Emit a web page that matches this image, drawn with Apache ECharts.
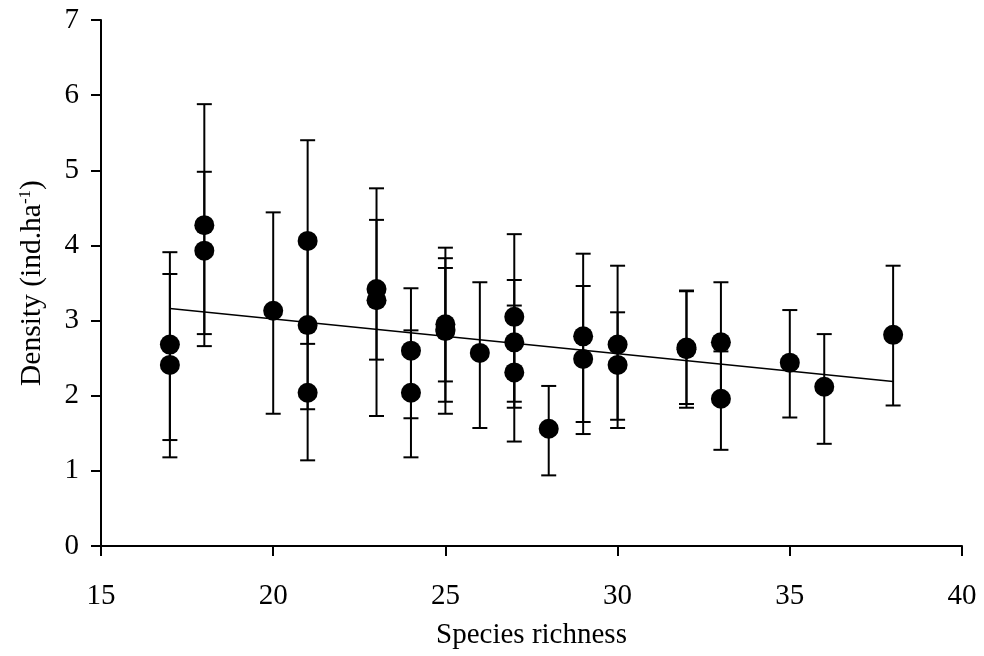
<!DOCTYPE html>
<html>
<head>
<meta charset="utf-8">
<script src="https://cdn.jsdelivr.net/npm/echarts@6/dist/echarts.min.js"></script>
<style>html,body{margin:0;padding:0;background:#fff}#c{width:984px;height:656px}</style>
</head>
<body>
<div id="c"></div>
<script>
var richness = [17,17,18,18,20,21,21,21,23,23,24,24,25,25,25,26,27,27,27,28,29,29,30,30,32,32,33,33,35,36,38];
var density  = [2.68,2.41,4.27,3.93,3.13,4.06,2.94,2.04,3.42,3.27,2.60,2.04,2.95,2.88,2.86,2.57,3.05,2.71,2.31,1.56,2.79,2.49,2.68,2.41,2.64,2.62,2.71,1.96,2.44,2.12,2.81];
var lower    = [1.41,1.18,2.66,2.82,1.76,2.69,1.82,1.14,2.48,1.73,1.70,1.18,2.19,1.92,1.76,1.57,1.92,1.84,1.39,0.94,1.65,1.49,1.57,1.68,1.84,1.89,1.91,1.28,1.71,1.36,1.87];
var upper    = [3.91,3.62,5.88,4.98,4.44,5.40,4.06,2.94,4.34,4.76,3.43,2.87,3.70,3.83,3.97,3.51,4.15,3.54,3.20,2.13,3.89,3.46,3.73,3.11,3.40,3.39,3.51,2.59,3.14,2.82,3.73];
var trendX = [17, 38];
var trendY = [3.16, 2.19];
var xTicks = [15,20,25,30,35,40];
var yTicks = [0,1,2,3,4,5,6,7];

var FONT = 'Liberation Serif';
var chart = echarts.init(document.getElementById('c'));
var errData = richness.map(function(x,i){ return [x, lower[i], upper[i]]; });
var ptData = richness.map(function(x,i){ return [x, density[i]]; });
var lineData = trendX.map(function(x,i){ return [x, trendY[i]]; });

chart.setOption({
  animation: false,
  backgroundColor: '#fff',
  grid: {left: 101, right: 22, top: 20, bottom: 110},
  xAxis: {
    type: 'value', min: xTicks[0], max: xTicks[xTicks.length-1], interval: 5,
    name: 'Species richness', nameLocation: 'middle', nameGap: 75,
    nameTextStyle: {fontFamily: FONT, fontSize: 29, color: '#000'},
    axisLine: {lineStyle: {color: '#000', width: 2}},
    axisTick: {show: true, inside: false, length: 10, lineStyle: {color: '#000', width: 2}},
    axisLabel: {fontFamily: FONT, fontSize: 29, color: '#000', margin: 36},
    splitLine: {show: false}
  },
  yAxis: {
    type: 'value', min: yTicks[0], max: yTicks[yTicks.length-1], interval: 1,
    name: '{a|Density (ind.ha}{b|-1}{a|)}', nameLocation: 'middle', nameGap: 54, nameRotate: 90,
    nameTextStyle: {fontFamily: FONT, fontSize: 29, color: '#000',
      rich: {a: {fontFamily: FONT, fontSize: 29.5, color: '#000'},
             b: {fontFamily: FONT, fontSize: 17, color: '#000', verticalAlign: 'top', padding: [0,0,12,0]}}},
    axisLine: {lineStyle: {color: '#000', width: 2}},
    axisTick: {show: true, inside: false, length: 10, lineStyle: {color: '#000', width: 2}},
    axisLabel: {fontFamily: FONT, fontSize: 29, color: '#000', margin: 22},
    splitLine: {show: false}
  },
  series: [
    {
      type: 'line', data: lineData, symbol: 'none', z: 2,
      lineStyle: {color: '#000', width: 1.6}
    },
    {
      type: 'custom', z: 3, data: errData,
      renderItem: function(params, api){
        var x = api.value(0);
        var lo = api.coord([x, api.value(1)]);
        var hi = api.coord([x, api.value(2)]);
        var hw = 7.5;
        var st = {stroke: '#000', lineWidth: 2};
        return {type: 'group', children: [
          {type: 'line', shape: {x1: lo[0], y1: lo[1], x2: hi[0], y2: hi[1]}, style: st},
          {type: 'line', shape: {x1: lo[0]-hw, y1: lo[1], x2: lo[0]+hw, y2: lo[1]}, style: st},
          {type: 'line', shape: {x1: hi[0]-hw, y1: hi[1], x2: hi[0]+hw, y2: hi[1]}, style: st}
        ]};
      }
    },
    {
      type: 'scatter', data: ptData, symbol: 'circle', symbolSize: 20, z: 4,
      itemStyle: {color: '#000', opacity: 1}
    }
  ]
});
</script>
</body>
</html>
